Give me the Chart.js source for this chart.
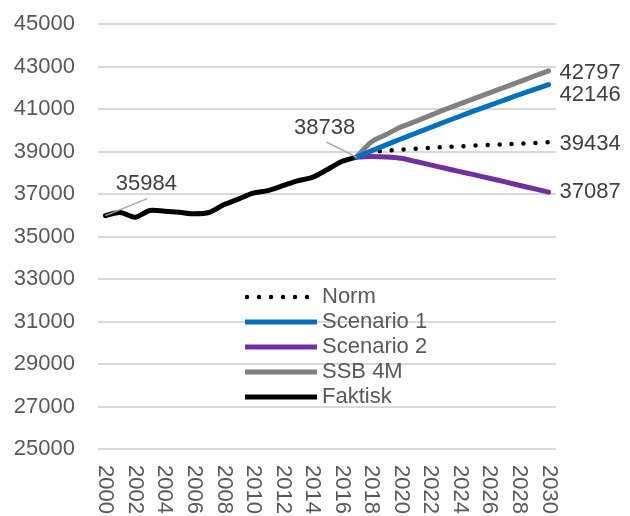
<!DOCTYPE html>
<html>
<head>
<meta charset="utf-8">
<script src="https://cdn.jsdelivr.net/npm/chart.js@4.4.1/dist/chart.umd.min.js"></script>
<style>
  html, body { margin: 0; padding: 0; background: #fff; }
  #wrap { width: 630px; height: 516px; }
</style>
</head>
<body>
<div id="wrap"><canvas id="myChart"></canvas></div>
<script>
// years 2000-2030
const years = ['2000','2001','2002','2003','2004','2005','2006','2007','2008','2009',
  '2010','2011','2012','2013','2014','2015','2016','2017','2018','2019',
  '2020','2021','2022','2023','2024','2025','2026','2027','2028','2029','2030'];

const faktisk = [35984, 36130, 35910, 36220, 36190, 36140, 36070, 36130, 36490, 36760,
  37040, 37160, 37390, 37620, 37780, 38140, 38530, 38738];

const pad = new Array(17).fill(null);
const norm = pad.concat([38738, 38950, 39040, 39090, 39130, 39170, 39210, 39240, 39280, 39310, 39340, 39370, 39400, 39434]);
const scenario1 = pad.concat([38738, 39030, 39310, 39590, 39860, 40130, 40400, 40660, 40920, 41170, 41420, 41670, 41910, 42146]);
const scenario2 = pad.concat([38738, 38760, 38740, 38680, 38530, 38370, 38210, 38050, 37900, 37740, 37580, 37410, 37250, 37087]);
const ssb4m = pad.concat([38738, 39450, 39800, 40150, 40420, 40700, 40980, 41240, 41500, 41760, 42020, 42280, 42540, 42797]);

const yMin = 25000, yMax = 45000, yStep = 2000;

const font = 'Liberation Sans, Arial, sans-serif';
const axisGray = '#595959';
const labelGray = '#404040';

// legend drawn inside the plot, plus rotated year labels and data labels
const extras = {
  id: 'extras',
  afterDatasetsDraw(chart) {
    const ctx = chart.ctx;
    const xs = chart.scales.x, ys = chart.scales.y;
    const area = chart.chartArea;
    ctx.save();

    // x labels, every second year, reading top-down
    ctx.fillStyle = axisGray;
    ctx.font = '22px ' + font;
    ctx.textAlign = 'left';
    ctx.textBaseline = 'middle';
    years.forEach((y, i) => {
      if (i % 2) return;
      ctx.save();
      ctx.translate(xs.getPixelForValue(i), area.bottom + 16);
      ctx.rotate(Math.PI / 2);
      ctx.fillText(y, 0, 0);
      ctx.restore();
    });

    // end labels
    const last = years.length - 1;
    const ends = [[ssb4m, 2], [scenario1, 10], [norm, 2], [scenario2, 0]];
    ctx.fillStyle = labelGray;
    ends.forEach(([arr, dy]) => {
      const px = xs.getPixelForValue(last), py = ys.getPixelForValue(arr[last]);
      ctx.fillText(String(arr[last]), px + 11, py + dy);
    });

    // callouts with leader lines
    const callouts = [[0, 42, -17, 41, -32], [17, -30, -15, -32, -29]];
    ctx.strokeStyle = '#a6a6a6';
    ctx.lineWidth = 1.5;
    callouts.forEach(([i, lx, ly, tx, ty]) => {
      const px = xs.getPixelForValue(i), py = ys.getPixelForValue(faktisk[i]);
      ctx.beginPath();
      ctx.moveTo(px, py);
      ctx.lineTo(px + lx, py + ly);
      ctx.stroke();
      ctx.textAlign = 'center';
      ctx.fillText(String(faktisk[i]), px + tx, py + ty);
    });

    // legend
    const order = [3, 0, 1, 2, 4];
    const lx = area.left + 147, ly = area.top + 273;
    ctx.textAlign = 'left';
    ctx.fillStyle = axisGray;
    order.forEach((di, k) => {
      const ds = chart.data.datasets[di];
      const y = ly + k * 25;
      ctx.save();
      ctx.strokeStyle = ds.borderColor;
      ctx.lineWidth = ds.borderWidth;
      ctx.lineCap = ds.borderCapStyle || 'butt';
      ctx.setLineDash(ds.borderDash || []);
      ctx.beginPath();
      ctx.moveTo(lx + (ds.borderDash ? 2 : 0), y);
      ctx.lineTo(lx + 72, y);
      ctx.stroke();
      ctx.restore();
      ctx.fillText(ds.label, lx + 77, y);
    });

    ctx.restore();
  }
};

new Chart(document.getElementById('myChart'), {
  type: 'line',
  data: {
    labels: years,
    datasets: [
      { label: 'Scenario 1', data: scenario1, borderColor: '#0070C0', borderWidth: 5 },
      { label: 'Scenario 2', data: scenario2, borderColor: '#7030A0', borderWidth: 5 },
      { label: 'SSB 4M', data: ssb4m, borderColor: '#808080', borderWidth: 5 },
      { label: 'Norm', data: norm, borderColor: '#000000', borderWidth: 4.5,
        borderDash: [0, 12], borderCapStyle: 'round' },
      { label: 'Faktisk', data: faktisk, borderColor: '#000000', borderWidth: 5 }
    ]
  },
  options: {
    responsive: true,
    maintainAspectRatio: false,
    animation: false,
    elements: {
      point: { radius: 0 },
      line: { tension: 0.3, borderJoinStyle: 'round', borderCapStyle: 'round' }
    },
    layout: { padding: { left: 4, right: 74, top: 24, bottom: 0 } },
    scales: {
      x: {
        offset: true,
        grid: { display: false },
        border: { display: false },
        ticks: { display: false },
        afterFit: s => { s.height = 67; }
      },
      y: {
        min: yMin,
        max: yMax,
        ticks: {
          stepSize: yStep, padding: 0, color: axisGray,
          font: { family: font, size: 22 },
          callback: v => String(v)
        },
        grid: { color: '#d9d9d9', lineWidth: 2, drawTicks: true, tickLength: 23, tickColor: 'rgba(0,0,0,0)' },
        border: { display: false },
        afterFit: s => { s.width = 94; }
      }
    },
    plugins: {
      legend: { display: false },
      tooltip: { enabled: false }
    }
  },
  plugins: [extras]
});
</script>
</body>
</html>
